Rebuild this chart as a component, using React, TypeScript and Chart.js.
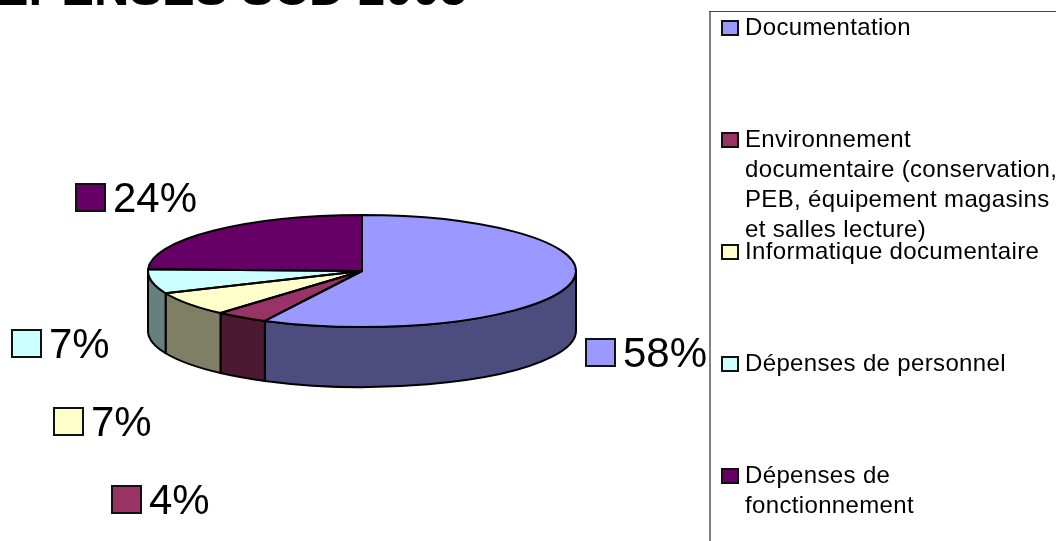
import React, { useEffect, useRef } from "react";
import { Chart, registerables } from "chart.js";

Chart.register(...registerables);

const TITLE = "DEPENSES SCD 2005";
const categories = [
  "Documentation",
  "Environnement documentaire (conservation, PEB, équipement magasins et salles lecture)",
  "Informatique documentaire",
  "Dépenses de personnel",
  "Dépenses de fonctionnement",
];
const values = [57.5, 4.0, 7.0, 7.0, 24.5];
const valueLabels = ["58%", "4%", "7%", "7%", "24%"];
const colors = ["#9999FF", "#993366", "#FFFFCC", "#CCFFFF", "#660066"];
const sideColors = ["#4C4C7F", "#4C1933", "#7F7F66", "#667F7F", "#330033"];
const legendLines = [
  ["Documentation"],
  ["Environnement", "documentaire (conservation,", "PEB, équipement magasins", "et salles lecture)"],
  ["Informatique documentaire"],
  ["Dépenses de personnel"],
  ["Dépenses de", "fonctionnement"],
];

const FLAT = 56 / 214;
const DEPTH = 60;
const FONT = '"Liberation Sans", Arial, sans-serif';
// layout: label swatch offset from the pie centre (left, top of swatch), per slice
const labelOffsets = [
  [224, 68],
  [-250, 215],
  [-308, 137],
  [-350, 59],
  [-286, -87],
];
const legendBaselines = [35, 147, 259, 371, 483];

const pie3d = {
  id: "pie3d",
  beforeDatasetsDraw(chart: any) {
    const ctx = chart.ctx;
    const arcs = chart.getDatasetMeta(0).data;
    const { x: cx, y: cy, outerRadius: rx } = arcs[0].getProps(["x", "y", "outerRadius"], true);
    const ry = rx * FLAT;
    ctx.save();
    ctx.lineWidth = 2;
    ctx.strokeStyle = "#000";
    ctx.lineJoin = "round";
    arcs.forEach((arc: any, i: number) => {
      const { startAngle, endAngle } = arc.getProps(["startAngle", "endAngle"], true);
      const s = Math.max(startAngle, 0);
      const e = Math.min(endAngle, Math.PI);
      if (e <= s) return;
      ctx.beginPath();
      ctx.ellipse(cx, cy, rx, ry, 0, s, e);
      ctx.ellipse(cx, cy + DEPTH, rx, ry, 0, e, s, true);
      ctx.closePath();
      ctx.fillStyle = sideColors[i];
      ctx.fill();
      ctx.stroke();
    });
    ctx.restore();
    // flatten the library's own arcs into an ellipse
    ctx.save();
    ctx.translate(cx, cy);
    ctx.scale(1, FLAT);
    ctx.translate(-cx, -cy);
  },
  afterDatasetsDraw(chart: any) {
    const ctx = chart.ctx;
    ctx.restore();
    const arcs = chart.getDatasetMeta(0).data;
    const { x: cx, y: cy, outerRadius: rx } = arcs[0].getProps(["x", "y", "outerRadius"], true);
    const ry = rx * FLAT;
    ctx.save();
    ctx.lineWidth = 2;
    ctx.strokeStyle = "#000";
    ctx.lineJoin = "round";
    arcs.forEach((arc: any) => {
      const { startAngle, endAngle } = arc.getProps(["startAngle", "endAngle"], true);
      ctx.beginPath();
      ctx.moveTo(cx, cy);
      ctx.ellipse(cx, cy, rx, ry, 0, startAngle, endAngle);
      ctx.closePath();
      ctx.stroke();
    });
    ctx.restore();

    // percentage labels with swatches
    ctx.save();
    ctx.textBaseline = "alphabetic";
    ctx.textAlign = "left";
    ctx.font = `42px ${FONT}`;
    valueLabels.forEach((text, i) => {
      const sx = cx + labelOffsets[i][0];
      const sy = cy + labelOffsets[i][1];
      ctx.fillStyle = colors[i];
      ctx.strokeStyle = "#111";
      ctx.lineWidth = 2;
      ctx.fillRect(sx, sy, 29, 27);
      ctx.strokeRect(sx, sy, 29, 27);
      ctx.fillStyle = "#000";
      ctx.fillText(text, sx + 37, sy + 28);
    });
    ctx.restore();
  },
  afterDraw(chart: any) {
    const ctx = chart.ctx;
    ctx.save();
    // title, cut off by the top of the page
    ctx.font = `bold 49px ${FONT}`;
    ctx.fillStyle = "#000";
    ctx.textAlign = "right";
    ctx.textBaseline = "alphabetic";
    ctx.fillText(TITLE, 467, 5);

    // legend frame, running off the page on the right and at the bottom
    ctx.strokeStyle = "#808080";
    ctx.lineWidth = 2;
    ctx.beginPath();
    ctx.moveTo(710, 541);
    ctx.lineTo(710, 12);
    ctx.stroke();
    ctx.strokeStyle = "#444";
    ctx.lineWidth = 1;
    ctx.beginPath();
    ctx.moveTo(709, 11.5);
    ctx.lineTo(1056, 11.5);
    ctx.stroke();

    ctx.textAlign = "left";
    ctx.font = `24px ${FONT}`;
    (ctx as any).letterSpacing = "0.35px";
    categories.forEach((_, i) => {
      const base = legendBaselines[i];
      ctx.fillStyle = colors[i];
      ctx.strokeStyle = "#111";
      ctx.lineWidth = 2;
      ctx.fillRect(722, base - 14, 16, 14);
      ctx.strokeRect(722, base - 14, 16, 14);
      ctx.fillStyle = "#000";
      legendLines[i].forEach((line, j) => {
        ctx.fillText(line, 745, base + j * 30);
      });
    });
    ctx.restore();
  },
};

export default function App() {
  const ref = useRef<HTMLCanvasElement>(null);
  useEffect(() => {
    const chart = new Chart(ref.current as HTMLCanvasElement, {
      type: "pie",
      data: {
        labels: categories,
        datasets: [{ data: values, backgroundColor: colors, borderWidth: 0 }],
      },
      options: {
        responsive: false,
        animation: false,
        layout: { padding: { left: 148, right: 480, top: 57, bottom: 56 } },
        plugins: { legend: { display: false }, tooltip: { enabled: false }, title: { display: false } },
      },
      plugins: [pie3d],
    } as any);
    return () => chart.destroy();
  }, []);
  return (
    <div style={{ position: "fixed", left: 0, top: 0, width: 1056, height: 541, background: "#fff" }}>
      <canvas ref={ref} width={1056} height={541} style={{ display: "block" }} />
    </div>
  );
}
